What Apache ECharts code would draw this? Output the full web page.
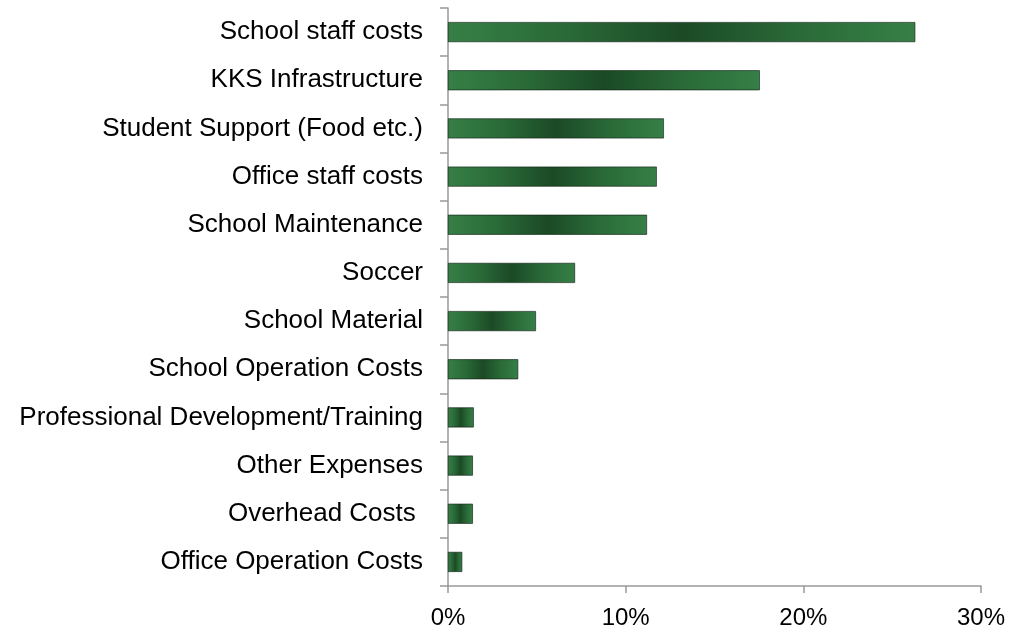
<!DOCTYPE html>
<html><head><meta charset="utf-8">
<script src="https://cdn.jsdelivr.net/npm/echarts@6/dist/echarts.min.js"></script>
<style>html,body{margin:0;padding:0;background:#fff}#c{width:1011px;height:631px}</style>
</head><body><div id="c"></div>
<script>
const categories = ["School staff costs","KKS Infrastructure","Student Support (Food etc.)","Office staff costs","School Maintenance","Soccer","School Material","School Operation Costs","Professional Development/Training","Other Expenses","Overhead Costs ","Office Operation Costs"];
const values = [26.3, 17.55, 12.15, 11.75, 11.2, 7.15, 4.95, 3.95, 1.45, 1.4, 1.4, 0.8];
const xTicks = [0, 10, 20, 30];

const chart = echarts.init(document.getElementById('c'));
const grad = new echarts.graphic.LinearGradient(0, 0, 1, 0, [
  {offset: 0, color: '#367f46'},
  {offset: 0.25, color: '#2a6a38'},
  {offset: 0.5, color: '#1b4a25'},
  {offset: 0.75, color: '#2a6a38'},
  {offset: 1, color: '#367f46'}
]);
chart.setOption({
  animation: false,
  grid: {left: 448, right: 30, top: 8, bottom: 45, containLabel: false},
  xAxis: {
    type: 'value', min: xTicks[0], max: xTicks[xTicks.length-1], interval: 10,
    axisLine: {show: true, lineStyle: {color: '#999', width: 1.5}},
    axisTick: {show: true, length: 7, lineStyle: {color: '#999', width: 1.5}},
    splitLine: {show: false},
    axisLabel: {formatter: v => v + '%', color: '#000', fontSize: 24, fontFamily: 'Liberation Sans, Arial', margin: 20}
  },
  yAxis: {
    type: 'category', data: categories, inverse: true,
    axisLine: {show: true, lineStyle: {color: '#999', width: 1.5}},
    axisTick: {show: true, length: 8, lineStyle: {color: '#999', width: 1.5}},
    axisLabel: {color: '#000', fontSize: 26, fontFamily: 'Liberation Sans, Arial', margin: 25}
  },
  series: [{
    type: 'bar', data: values, barWidth: 20,
    itemStyle: {color: grad, borderColor: '#0a1a0e', borderWidth: 0.6}
  }]
});
</script></body></html>
